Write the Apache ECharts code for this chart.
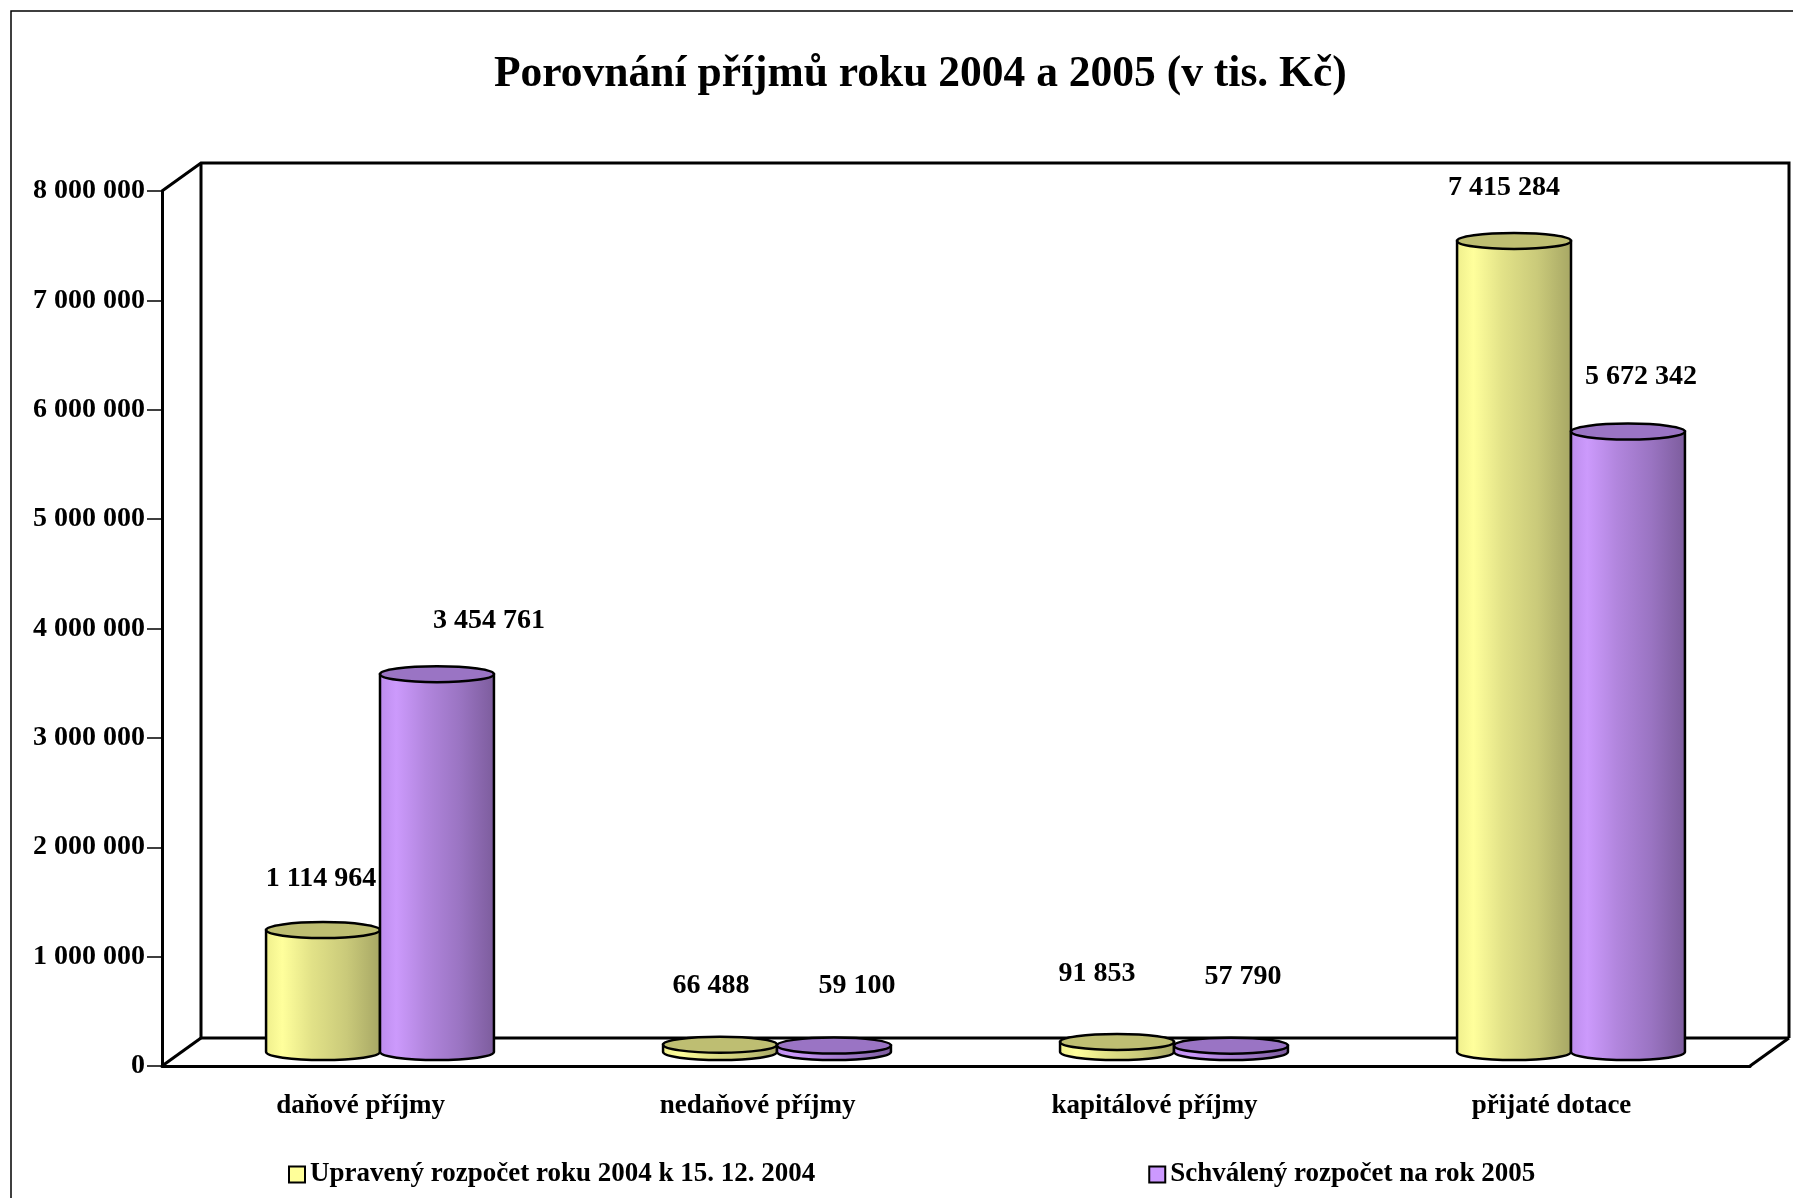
<!DOCTYPE html>
<html>
<head>
<meta charset="utf-8">
<script src="https://cdn.jsdelivr.net/npm/echarts@6/dist/echarts.min.js"></script>
<style>
  html, body { margin: 0; padding: 0; background: #fff; }
  #chart { width: 1793px; height: 1198px; }
</style>
</head>
<body>
<div id="chart"></div>
<script>
// data (v tis. Kč)
var categories = ['daňové příjmy', 'nedaňové příjmy', 'kapitálové příjmy', 'přijaté dotace'];
var upraveny2004 = [1114964, 66488, 91853, 7415284];
var schvaleny2005 = [3454761, 59100, 57790, 5672342];
var seriesNames = ['Upravený rozpočet roku 2004 k 15. 12. 2004', 'Schválený rozpočet na rok 2005'];
var yMax = 8000000;
var yStep = 1000000;

// value labels were nudged by hand in the original, px from the cylinder top
var labelShift2004 = [[-2, -51], [-9, -59], [-20, -68], [-10, -53]];
var labelShift2005 = [[52, -53], [23, -60], [12, -69], [13, -55]];

var FONT = '"Liberation Serif", "Times New Roman", serif';
var DX = 39, DY = -28;   // 3d depth offset in px

function fmt (v) {
  return String(v).replace(/\B(?=(\d{3})+(?!\d))/g, ' ');
}

function toData (arr) {
  return arr.map(function (v, i) { return [i, v]; });
}

// cylinder drawn at mid depth
function cylinder (side, c, shifts) {
  return function (params, api) {
    var band = api.size([1, 0])[0];
    var w = band * 0.287;
    var base = api.coord([api.value(0), 0]);
    var top = api.coord([api.value(0), api.value(1)]);
    var cx = base[0] + side * w / 2 + DX / 2;
    var by = base[1] + DY / 2;
    var ty = top[1] + DY / 2;
    var rx = w / 2, ry = 8;
    var l = cx - rx, r = cx + rx;
    var sh = shifts[params.dataIndex];
    var grad = new echarts.graphic.LinearGradient(0, 0, 1, 0, c.body);
    return {
      type: 'group',
      children: [{
        type: 'path',
        shape: {
          pathData: 'M' + l + ' ' + ty + ' L' + l + ' ' + by +
            ' A' + rx + ' ' + ry + ' 0 0 0 ' + r + ' ' + by +
            ' L' + r + ' ' + ty + ' Z'
        },
        style: { fill: grad, stroke: '#000', lineWidth: 2.5 }
      }, {
        type: 'ellipse',
        shape: { cx: cx, cy: ty, rx: rx, ry: ry },
        style: { fill: c.top, stroke: '#000', lineWidth: 2.5 }
      }, {
        type: 'text',
        style: {
          x: cx + sh[0], y: ty + sh[1],
          text: fmt(api.value(1)),
          font: 'bold 28px ' + FONT,
          fill: '#000',
          align: 'center', verticalAlign: 'middle'
        }
      }]
    };
  };
}

var yellow = {
  body: [
    { offset: 0, color: '#EEEE8C' },
    { offset: 0.15, color: '#FFFF9C' },
    { offset: 0.4, color: '#E2E288' },
    { offset: 0.7, color: '#CACA7A' },
    { offset: 1, color: '#A6A664' }
  ],
  top: '#BEBE72'
};
var purple = {
  body: [
    { offset: 0, color: '#BC8CEC' },
    { offset: 0.15, color: '#CC9AFC' },
    { offset: 0.4, color: '#B286DE' },
    { offset: 0.7, color: '#9A74C2' },
    { offset: 1, color: '#7C5C9C' }
  ],
  top: '#9A74C4'
};

// back wall + floor edges
function frame (params, api) {
  var n = categories.length;
  var band = api.size([1, 0])[0];
  var x0 = api.coord([0, 0])[0] - band / 2;
  var x1 = api.coord([n - 1, 0])[0] + band / 2;
  var y0 = api.coord([0, 0])[1];
  var yT = api.coord([0, yMax])[1];
  var st = { stroke: '#000', lineWidth: 3, fill: null };
  return {
    type: 'group',
    children: [
      { type: 'polyline', shape: { points: [[x0, yT], [x0 + DX, yT + DY], [x1 + DX, yT + DY], [x1 + DX, y0 + DY]] }, style: st },
      { type: 'line', shape: { x1: x0 + DX, y1: yT + DY, x2: x0 + DX, y2: y0 + DY }, style: st },
      { type: 'line', shape: { x1: x0, y1: y0, x2: x0 + DX, y2: y0 + DY }, style: st },
      { type: 'line', shape: { x1: x0 + DX, y1: y0 + DY, x2: x1 + DX, y2: y0 + DY }, style: st },
      { type: 'line', shape: { x1: x1, y1: y0, x2: x1 + DX, y2: y0 + DY }, style: st }
    ]
  };
}

var chart = echarts.init(document.getElementById('chart'));
var option = {
  backgroundColor: '#fff',
  animation: false,
  title: {
    text: 'Porovnání příjmů roku 2004 a 2005 (v tis. Kč)',
    left: 494,
    top: 53,
    padding: 0,
    textStyle: { fontFamily: FONT, fontWeight: 'bold', fontSize: 43.5, color: '#000' }
  },
  graphic: [{
    type: 'rect',
    shape: { x: 11, y: 11, width: 1800, height: 1200 },
    style: { fill: null, stroke: '#000', lineWidth: 1.5 },
    z: -1
  }],
  legend: {
    data: seriesNames,
    left: 288,
    top: 1161,
    padding: 0,
    itemGap: 333,
    itemWidth: 16,
    itemHeight: 16,
    icon: 'rect',
    itemStyle: { borderColor: '#000', borderWidth: 2 },
    textStyle: { fontFamily: FONT, fontWeight: 'bold', fontSize: 27, color: '#000', padding: 0 }
  },
  grid: { left: 162, right: 43, top: 191, bottom: 132 },
  xAxis: {
    type: 'category',
    data: categories,
    axisLine: { lineStyle: { color: '#000', width: 3 } },
    axisTick: { length: 14, lineStyle: { color: '#000', width: 1.5 } },
    axisLabel: { margin: 27, fontFamily: FONT, fontWeight: 'bold', fontSize: 27, color: '#000' }
  },
  yAxis: {
    type: 'value',
    min: 0,
    max: yMax,
    interval: yStep,
    axisLine: { show: true, lineStyle: { color: '#000', width: 3 } },
    axisTick: { show: true, length: 15, lineStyle: { color: '#000', width: 1.5 } },
    axisLabel: { margin: 17, fontFamily: FONT, fontWeight: 'bold', fontSize: 28, color: '#000', formatter: fmt },
    splitLine: { show: false }
  },
  series: [{
    type: 'custom',
    name: 'frame',
    silent: true,
    clip: false,
    z: 1,
    data: [[0, 0]],
    encode: { x: 0, y: 1 },
    renderItem: frame
  }, {
    type: 'custom',
    name: seriesNames[0],
    clip: false,
    z: 3,
    itemStyle: { color: '#FFFF99' },
    data: toData(upraveny2004),
    encode: { x: 0, y: 1 },
    renderItem: cylinder(-1, yellow, labelShift2004)
  }, {
    type: 'custom',
    name: seriesNames[1],
    clip: false,
    z: 4,
    itemStyle: { color: '#CC99FF' },
    data: toData(schvaleny2005),
    encode: { x: 0, y: 1 },
    renderItem: cylinder(1, purple, labelShift2005)
  }]
};
chart.setOption(option);
</script>
</body>
</html>
